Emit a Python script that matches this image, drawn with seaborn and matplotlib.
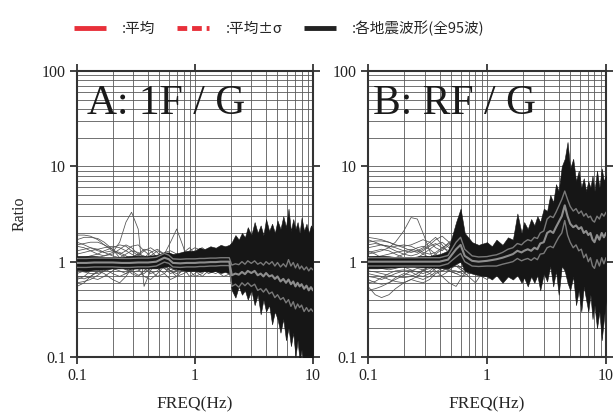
import numpy as np
import pandas as pd
import matplotlib
matplotlib.use("Agg")
import matplotlib.pyplot as plt
import matplotlib.ticker as mticker
from matplotlib.lines import Line2D
import seaborn as sns

# frequencies (Hz) for band / mean lines
freq = [0.1, 0.12, 0.14, 0.17, 0.2, 0.24, 0.28, 0.33, 0.4, 0.47,
        0.55, 0.6, 0.65, 0.75, 0.85, 1.0, 1.1, 1.2, 1.35, 1.5,
        1.65, 1.8, 1.95,
        2.05, 2.2, 2.35, 2.5, 2.65, 2.8, 3.0,
        3.2, 3.4, 3.6, 3.8, 4.0, 4.25, 4.5, 4.75, 5.0, 5.3,
        5.6, 5.9, 6.2, 6.5, 6.8, 7.1, 7.4, 7.7, 8.0, 8.4,
        8.8, 9.2, 9.6, 10.0]

# --- A: 1F / G ---
band_hi_A = [1.15, 1.15, 1.15, 1.12, 1.12, 1.12, 1.15, 1.15, 1.15, 1.18,
             1.25, 1.25, 1.2, 1.25, 1.3, 1.3, 1.4, 1.35, 1.45, 1.4,
             1.5, 1.45, 1.5,
             1.6, 1.9, 1.7, 2.0, 1.8, 2.3, 1.9,
             2.6, 2.0, 2.4, 1.9, 2.8, 2.1, 2.5, 2.0, 2.7, 2.2,
             3.0, 2.3, 3.6, 2.1, 2.8, 2.2, 2.6, 2.0, 2.9, 2.1,
             2.5, 2.0, 2.4, 2.2]
band_lo_A = [0.82, 0.8, 0.82, 0.83, 0.85, 0.85, 0.84, 0.85, 0.85, 0.85,
             0.88, 0.9, 0.85, 0.82, 0.8, 0.8, 0.78, 0.8, 0.78, 0.8,
             0.76, 0.78, 0.75,
             0.5, 0.42, 0.55, 0.45, 0.5, 0.4, 0.5,
             0.35, 0.45, 0.28, 0.4, 0.3, 0.35, 0.22, 0.3, 0.25, 0.18,
             0.25, 0.15, 0.2, 0.13, 0.18, 0.1, 0.15, 0.09, 0.12, 0.08,
             0.1, 0.09, 0.09, 0.08]
mean_A = [0.97, 0.97, 0.98, 0.98, 0.98, 0.97, 0.97, 0.98, 0.98, 1.0,
          1.1, 1.06, 0.97, 0.96, 0.97, 0.97, 0.98, 0.98, 0.99, 0.99,
          1.0, 1.0, 1.0,
          0.72, 0.75, 0.73, 0.78, 0.74, 0.8, 0.76,
          0.8, 0.72, 0.75, 0.7, 0.76, 0.7, 0.72, 0.66, 0.7, 0.62,
          0.66, 0.6, 0.65, 0.58, 0.62, 0.55, 0.6, 0.55, 0.58, 0.52,
          0.56, 0.5, 0.54, 0.5]
sig_hi_A = [1.08, 1.08, 1.09, 1.09, 1.09, 1.08, 1.08, 1.09, 1.09, 1.11,
            1.22, 1.17, 1.07, 1.06, 1.07, 1.07, 1.08, 1.08, 1.09, 1.09,
            1.1, 1.1, 1.1,
            0.92, 0.95, 0.93, 1.0, 0.94, 1.02, 0.96,
            1.02, 0.94, 0.98, 0.92, 1.0, 0.94, 1.0, 0.9, 0.98, 0.88,
            0.95, 0.88, 1.05, 0.9, 0.98, 0.86, 0.95, 0.84, 0.9, 0.82,
            0.88, 0.8, 0.86, 0.82]
sig_lo_A = [0.87, 0.87, 0.88, 0.88, 0.88, 0.87, 0.87, 0.88, 0.88, 0.9,
            0.99, 0.96, 0.88, 0.87, 0.88, 0.88, 0.89, 0.89, 0.9, 0.9,
            0.91, 0.91, 0.91,
            0.55, 0.58, 0.54, 0.6, 0.56, 0.6, 0.55,
            0.58, 0.5, 0.52, 0.48, 0.52, 0.46, 0.48, 0.42, 0.45, 0.4,
            0.42, 0.37, 0.4, 0.34, 0.38, 0.32, 0.36, 0.33, 0.35, 0.3,
            0.33, 0.3, 0.32, 0.3]

# --- B: RF / G ---
band_hi_B = [1.15, 1.15, 1.15, 1.12, 1.12, 1.12, 1.15, 1.15, 1.2, 1.3,
             2.6, 3.6, 2.0, 1.6, 1.5, 1.6, 1.45, 1.7, 1.5, 1.8,
             1.7, 3.2, 2.0,
             2.6, 2.2, 2.8, 2.4, 3.0, 2.6, 3.6,
             3.4, 5.0, 4.2, 6.5, 5.5, 10.0, 12.0, 18.0, 9.5, 12.0,
             7.0, 9.0, 6.0, 7.5, 5.5, 7.0, 6.0, 8.0, 5.5, 9.0,
             6.0, 9.5, 7.0, 8.0]
band_lo_B = [0.85, 0.85, 0.86, 0.87, 0.88, 0.88, 0.87, 0.87, 0.86, 0.85,
             0.95, 1.0, 0.8, 0.75, 0.72, 0.7, 0.65, 0.72, 0.6, 0.7,
             0.65, 0.72, 0.6,
             0.68, 0.55, 0.7, 0.6, 0.72, 0.5, 0.75,
             0.62, 0.9, 0.55, 0.8, 0.45, 0.9, 0.8, 0.6, 0.5, 0.7,
             0.35, 0.5, 0.3, 0.55, 0.4, 0.3, 0.45, 0.25, 0.35, 0.2,
             0.3, 0.15, 0.25, 0.4]
mean_B = [1.0, 1.0, 1.0, 1.0, 1.0, 1.0, 1.0, 1.0, 1.0, 1.05,
          1.35, 1.5, 1.15, 1.02, 1.0, 1.02, 1.04, 1.06, 1.1, 1.15,
          1.2, 1.3, 1.25,
          1.3, 1.35, 1.3, 1.4, 1.35, 1.55, 1.6,
          2.0, 2.1, 2.0, 2.3, 2.6, 3.0, 3.9, 3.0, 2.5, 2.3,
          2.4, 2.2, 2.3, 2.0, 2.1, 1.9, 2.0, 1.7, 1.6, 1.9,
          1.7, 2.0, 1.8, 2.0]
sig_hi_B = [1.1, 1.1, 1.1, 1.1, 1.1, 1.1, 1.1, 1.1, 1.1, 1.16,
            1.6, 1.8, 1.35, 1.15, 1.12, 1.13, 1.16, 1.18, 1.25, 1.35,
            1.4, 1.55, 1.5,
            1.6, 1.7, 1.65, 1.8, 1.75, 2.0, 2.1,
            2.8, 3.0, 2.9, 3.3, 3.8, 4.5, 5.5, 4.5, 3.8, 3.4,
            3.6, 3.2, 3.4, 3.0, 3.2, 2.9, 3.0, 2.7, 2.6, 3.0,
            2.8, 3.2, 3.0, 3.3]
sig_lo_B = [0.9, 0.9, 0.9, 0.9, 0.9, 0.9, 0.9, 0.9, 0.9, 0.95,
            1.12, 1.22, 1.0, 0.9, 0.89, 0.9, 0.9, 0.9, 0.94, 0.97,
            1.0, 1.08, 1.02,
            1.05, 1.08, 1.03, 1.1, 1.05, 1.2, 1.22,
            1.4, 1.45, 1.4, 1.6, 1.8, 2.0, 2.7, 1.9, 1.6, 1.4,
            1.5, 1.3, 1.35, 1.1, 1.2, 1.0, 1.1, 0.9, 0.85, 1.05,
            0.9, 1.1, 0.95, 1.1]

# individual records visible at low frequency
freq_low = [0.1, 0.115, 0.13, 0.15, 0.17, 0.2, 0.23, 0.26, 0.29, 0.33, 0.37, 0.42,
            0.48, 0.55, 0.62, 0.7, 0.8, 0.9, 1.0, 1.15, 1.3, 1.5, 1.75, 2.0]
waves_A = [
    [1.0, 1.0, 1.05, 1.1, 1.15, 1.25, 1.6, 2.6, 3.3, 2.2, 0.55, 0.8, 1.1, 1.0, 0.95, 1.0, 1.05, 0.95, 1.0, 1.05, 0.95, 1.0, 1.0, 0.95],
    [0.9, 0.92, 0.95, 1.0, 1.05, 1.0, 0.95, 1.0, 1.1, 1.2, 1.15, 1.05, 1.0, 1.2, 1.6, 2.2, 1.4, 0.8, 0.9, 1.1, 1.0, 1.05, 1.0, 1.0],
    [1.9, 1.9, 1.85, 1.7, 1.5, 1.3, 1.2, 1.3, 1.45, 1.5, 1.3, 1.15, 1.0, 1.05, 1.0, 1.1, 1.2, 1.05, 1.0, 1.1, 1.3, 1.2, 1.1, 1.05],
    [1.7, 1.8, 1.8, 1.75, 1.6, 1.35, 1.1, 1.0, 1.1, 1.2, 1.35, 1.3, 1.1, 1.0, 1.2, 1.15, 1.0, 1.1, 1.3, 1.2, 1.0, 1.1, 1.2, 1.0],
    [1.5, 1.55, 1.6, 1.6, 1.5, 1.35, 1.2, 1.1, 1.05, 1.15, 1.3, 1.4, 1.25, 1.05, 1.0, 1.1, 1.25, 1.4, 1.2, 1.0, 1.1, 1.25, 1.1, 1.0],
    [0.6, 0.62, 0.65, 0.72, 0.8, 0.85, 0.8, 0.75, 0.8, 0.9, 0.85, 0.75, 0.8, 0.95, 0.9, 0.8, 0.85, 0.7, 0.75, 0.9, 0.8, 0.75, 0.85, 0.8],
    [0.55, 0.6, 0.7, 0.8, 0.75, 0.65, 0.6, 0.7, 0.85, 0.95, 0.9, 0.8, 0.7, 0.75, 0.9, 0.95, 0.85, 0.9, 0.8, 0.7, 0.8, 0.9, 0.85, 0.9],
    [0.7, 0.7, 0.68, 0.65, 0.7, 0.8, 0.9, 0.85, 0.75, 0.7, 0.8, 0.9, 0.85, 0.75, 0.65, 0.7, 0.85, 0.95, 0.85, 0.8, 0.9, 0.85, 0.8, 0.85],
    [1.3, 1.35, 1.4, 1.35, 1.25, 1.15, 1.1, 1.2, 1.3, 1.25, 1.1, 1.0, 1.1, 1.25, 1.3, 1.2, 1.1, 1.3, 1.4, 1.3, 1.15, 1.2, 1.3, 1.2],
    [0.8, 0.78, 0.75, 0.75, 0.8, 0.9, 1.0, 1.05, 0.95, 0.85, 0.7, 0.65, 0.75, 0.9, 0.8, 0.7, 0.75, 0.8, 0.7, 0.75, 0.9, 0.8, 0.7, 0.75],
    [1.2, 1.25, 1.3, 1.35, 1.4, 1.45, 1.4, 1.3, 1.2, 1.1, 1.05, 1.15, 1.3, 1.2, 1.1, 1.0, 1.05, 1.15, 1.1, 1.2, 1.25, 1.15, 1.3, 1.4],
    [0.65, 0.7, 0.8, 0.9, 0.95, 0.9, 0.85, 0.9, 1.0, 1.1, 1.0, 0.9, 0.95, 1.0, 0.85, 0.8, 0.9, 1.0, 0.9, 0.8, 0.85, 0.9, 0.95, 0.9],
    [1.1, 1.1, 1.15, 1.2, 1.3, 1.4, 1.5, 1.45, 1.3, 1.15, 1.05, 1.0, 1.05, 1.15, 1.2, 1.1, 1.0, 1.05, 1.15, 1.2, 1.1, 1.05, 1.15, 1.1],
    [0.75, 0.8, 0.85, 0.9, 0.85, 0.75, 0.7, 0.75, 0.85, 0.95, 1.05, 1.1, 1.0, 0.85, 0.75, 0.8, 0.9, 0.8, 0.85, 0.95, 0.85, 0.8, 0.9, 0.85],
    [1.45, 1.4, 1.3, 1.2, 1.15, 1.2, 1.35, 1.5, 1.4, 1.2, 1.0, 0.9, 0.95, 1.1, 1.15, 1.05, 0.95, 1.0, 1.1, 1.15, 1.05, 1.1, 1.2, 1.1],
    [0.9, 0.85, 0.8, 0.78, 0.82, 0.88, 0.95, 0.9, 0.8, 0.72, 0.75, 0.85, 0.9, 0.85, 0.8, 0.85, 0.95, 1.1, 1.2, 1.1, 0.95, 0.9, 0.95, 0.9],
    [1.6, 1.5, 1.4, 1.3, 1.25, 1.3, 1.25, 1.15, 1.05, 1.0, 1.1, 1.25, 1.35, 1.2, 1.05, 0.95, 1.05, 1.2, 1.3, 1.4, 1.25, 1.1, 1.05, 1.15],
    [0.68, 0.66, 0.7, 0.78, 0.88, 0.95, 0.9, 0.82, 0.78, 0.8, 0.9, 1.0, 1.1, 0.95, 0.8, 0.75, 0.8, 0.9, 0.95, 0.85, 0.75, 0.8, 0.85, 0.8],
]
waves_B = [
    [1.2, 1.25, 1.3, 1.4, 1.6, 2.1, 2.9, 2.8, 2.0, 1.3, 0.9, 0.8, 0.9, 1.1, 1.0, 0.9, 1.0, 1.1, 1.0, 0.9, 1.0, 1.05, 1.0, 1.0],
    [0.55, 0.45, 0.42, 0.45, 0.52, 0.6, 0.65, 0.62, 0.6, 0.65, 0.75, 0.8, 0.85, 0.9, 0.85, 0.8, 0.9, 0.95, 0.9, 0.85, 0.95, 0.9, 0.85, 0.9],
    [1.8, 1.75, 1.7, 1.6, 1.5, 1.45, 1.5, 1.6, 1.7, 1.6, 1.4, 1.3, 1.5, 2.0, 1.7, 1.3, 1.2, 1.3, 1.2, 1.1, 1.3, 1.4, 1.2, 1.3],
    [1.6, 1.65, 1.65, 1.6, 1.5, 1.4, 1.3, 1.25, 1.35, 1.5, 1.7, 1.85, 1.6, 1.3, 1.2, 1.3, 1.5, 1.4, 1.2, 1.3, 1.4, 1.3, 1.5, 1.4],
    [1.4, 1.45, 1.5, 1.45, 1.4, 1.3, 1.25, 1.3, 1.4, 1.6, 1.8, 1.5, 1.2, 1.1, 1.3, 1.6, 1.4, 1.2, 1.1, 1.2, 1.3, 1.5, 1.3, 1.2],
    [0.7, 0.68, 0.65, 0.7, 0.75, 0.8, 0.78, 0.72, 0.7, 0.75, 0.85, 0.95, 1.0, 0.9, 0.8, 0.7, 0.6, 0.75, 0.8, 0.7, 0.8, 0.75, 0.7, 0.8],
    [0.8, 0.78, 0.75, 0.72, 0.7, 0.68, 0.7, 0.75, 0.82, 0.9, 0.8, 0.7, 0.6, 0.55, 0.7, 0.85, 0.9, 0.8, 0.75, 0.8, 0.85, 0.75, 0.8, 0.85],
    [1.25, 1.3, 1.35, 1.3, 1.2, 1.1, 1.05, 1.1, 1.2, 1.35, 1.5, 1.6, 1.4, 1.2, 1.25, 1.4, 1.3, 1.5, 1.3, 1.2, 1.35, 1.25, 1.4, 1.3],
    [0.6, 0.62, 0.68, 0.75, 0.8, 0.82, 0.8, 0.78, 0.8, 0.85, 0.9, 0.88, 0.82, 0.8, 0.75, 0.8, 0.85, 0.7, 0.65, 0.75, 0.8, 0.7, 0.75, 0.8],
    [0.9, 0.88, 0.85, 0.82, 0.85, 0.9, 0.95, 1.0, 1.05, 1.1, 1.2, 1.35, 1.6, 1.8, 1.3, 1.1, 1.2, 1.15, 1.25, 1.1, 1.2, 1.3, 1.15, 1.2],
    [1.1, 1.12, 1.15, 1.2, 1.25, 1.3, 1.35, 1.3, 1.2, 1.1, 1.0, 1.1, 1.3, 1.5, 1.2, 1.0, 1.1, 1.25, 1.15, 1.05, 1.1, 1.2, 1.1, 1.15],
    [0.75, 0.72, 0.7, 0.65, 0.62, 0.6, 0.65, 0.7, 0.8, 0.9, 1.0, 0.9, 0.8, 0.75, 0.8, 0.9, 0.95, 0.85, 0.8, 0.9, 0.85, 0.8, 0.9, 0.95],
    [1.5, 1.55, 1.5, 1.4, 1.3, 1.2, 1.15, 1.2, 1.3, 1.45, 1.55, 1.4, 1.3, 1.6, 1.4, 1.2, 1.3, 1.45, 1.35, 1.2, 1.3, 1.4, 1.25, 1.3],
    [0.65, 0.6, 0.58, 0.6, 0.65, 0.72, 0.8, 0.85, 0.82, 0.75, 0.7, 0.72, 0.8, 0.95, 0.85, 0.75, 0.8, 0.85, 0.78, 0.72, 0.8, 0.85, 0.75, 0.8],
    [1.3, 1.2, 1.1, 1.05, 1.1, 1.2, 1.3, 1.4, 1.45, 1.35, 1.2, 1.05, 1.0, 1.3, 1.15, 1.0, 1.05, 1.2, 1.3, 1.2, 1.1, 1.15, 1.3, 1.2],
    [0.85, 0.9, 0.95, 1.0, 0.95, 0.88, 0.82, 0.78, 0.75, 0.8, 0.9, 1.05, 1.2, 1.4, 1.1, 0.9, 0.85, 0.9, 1.0, 0.9, 0.85, 0.95, 1.0, 0.9],
    [1.7, 1.6, 1.5, 1.45, 1.45, 1.5, 1.45, 1.35, 1.25, 1.2, 1.25, 1.4, 1.55, 1.4, 1.25, 1.15, 1.2, 1.35, 1.45, 1.3, 1.2, 1.3, 1.4, 1.5],
    [0.5, 0.52, 0.55, 0.6, 0.68, 0.75, 0.72, 0.68, 0.65, 0.7, 0.78, 0.85, 0.8, 0.75, 0.7, 0.75, 0.8, 0.72, 0.7, 0.78, 0.72, 0.7, 0.78, 0.75],
]

panels = [
    ("A: 1F / G", waves_A, band_lo_A, band_hi_A, mean_A, sig_lo_A, sig_hi_A, 0.042),
    ("B: RF / G", waves_B, band_lo_B, band_hi_B, mean_B, sig_lo_B, sig_hi_B, 0.02),
]

sns.set_style("ticks")
plt.rcParams['font.family'] = ['Liberation Serif', 'DejaVu Serif']

fig = plt.figure(figsize=(6.14, 4.12), dpi=100)
ax_A = fig.add_axes([0.1254, 0.1335, 0.3844, 0.6942])
ax_B = fig.add_axes([0.5993, 0.1335, 0.3877, 0.6942])

for ax, (titulo, waves, b_lo, b_hi, media, s_lo, s_hi, tx) in zip([ax_A, ax_B], panels):
    ondas = pd.DataFrame({
        'freq': freq_low * len(waves),
        'ratio': [v for w in waves for v in w],
        'onda': np.repeat(np.arange(len(waves)), len(freq_low)),
    })
    sns.lineplot(data=ondas, x='freq', y='ratio', units='onda', estimator=None,
                 color='#505050', lw=0.55, ax=ax, zorder=2, legend=False)
    ax.fill_between(freq, b_lo, b_hi, color='#161616', lw=0.4, edgecolor='#161616', zorder=3)
    sns.lineplot(x=freq, y=s_hi, color='#7a7a7a', lw=1.0, ax=ax, zorder=4)
    sns.lineplot(x=freq, y=s_lo, color='#7a7a7a', lw=1.0, ax=ax, zorder=4)
    sns.lineplot(x=freq, y=media, color='#8e8e8e', lw=1.5, ax=ax, zorder=5)

    ax.set_xscale('log'); ax.set_yscale('log')
    ax.set_xlim(0.1, 10); ax.set_ylim(0.1, 100)
    ax.set_xticks([0.1, 1, 10]); ax.set_xticklabels(['0.1', '1', '10'])
    ax.set_yticks([0.1, 1, 10, 100]); ax.set_yticklabels(['0.1', '1', '10', '100'])
    ax.xaxis.set_minor_locator(mticker.LogLocator(base=10, subs=np.arange(2, 10)))
    ax.yaxis.set_minor_locator(mticker.LogLocator(base=10, subs=np.arange(2, 10)))
    ax.xaxis.set_minor_formatter(mticker.NullFormatter())
    ax.yaxis.set_minor_formatter(mticker.NullFormatter())
    ax.grid(True, which='both', color='#5a5a5a', lw=0.6)
    ax.set_axisbelow(True)
    ax.tick_params(which='major', direction='out', length=5, width=1.2, top=True, right=True,
                   labelsize=11.5, pad=3, colors='#222222')
    ax.tick_params(which='minor', length=0)
    for s in ax.spines.values():
        s.set_linewidth(1.5)
        s.set_color('#333333')
    ax.set_xlabel('FREQ(Hz)', fontsize=12.5, labelpad=9)
    ax.set_ylabel('')
    ax.text(tx, 0.885, titulo, transform=ax.transAxes, fontsize=30, va='center', ha='left',
            color='#1a1a1a', zorder=6)

ax_A.set_ylabel('Ratio', fontsize=11.5, labelpad=10)

handles = [
    Line2D([], [], color='#e8303a', lw=3.5, solid_capstyle='butt'),
    Line2D([], [], color='#e8303a', lw=3.5, ls=(0, (2.0, 1.0)), dash_capstyle='butt'),
    Line2D([], [], color='#222222', lw=3.5, solid_capstyle='butt'),
]
fig.legend(handles, [':平均', ':平均±σ', ':各地震波形(全95波)'], loc='center',
           bbox_to_anchor=(0.455, 0.932), ncol=3, frameon=False,
           prop={'family': ['Noto Sans CJK JP', 'DejaVu Sans'], 'size': 10.5},
           handlelength=2.2, handletextpad=1.1, columnspacing=1.5)

fig.savefig('out.png', dpi=100)
